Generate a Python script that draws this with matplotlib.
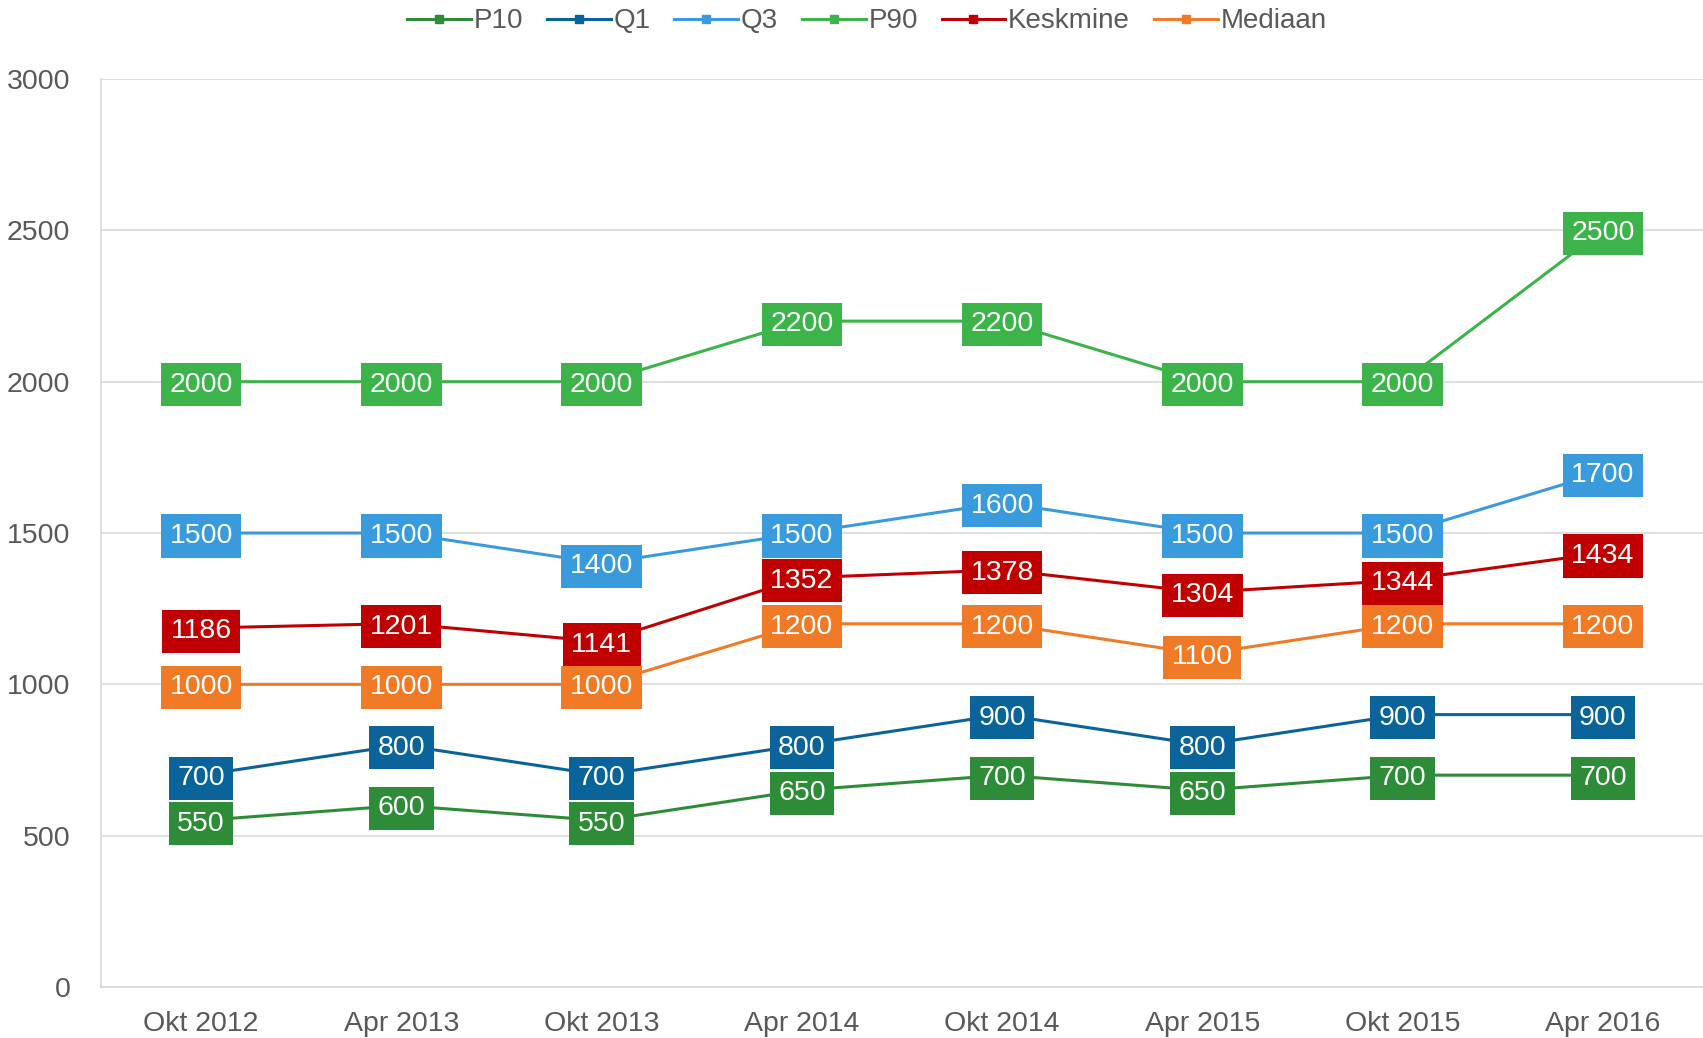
import matplotlib.pyplot as plt

plt.rcParams['font.family'] = ['Liberation Sans', 'DejaVu Sans']

periods = ['Okt 2012', 'Apr 2013', 'Okt 2013', 'Apr 2014', 'Okt 2014', 'Apr 2015', 'Okt 2015', 'Apr 2016']
p10 = [550, 600, 550, 650, 700, 650, 700, 700]
q1 = [700, 800, 700, 800, 900, 800, 900, 900]
q3 = [1500, 1500, 1400, 1500, 1600, 1500, 1500, 1700]
p90 = [2000, 2000, 2000, 2200, 2200, 2000, 2000, 2500]
keskmine = [1186, 1201, 1141, 1352, 1378, 1304, 1344, 1434]
mediaan = [1000, 1000, 1000, 1200, 1200, 1100, 1200, 1200]

series = [
    ('P10', p10, '#2E8B38'),
    ('Q1', q1, '#0A6399'),
    ('Q3', q3, '#3A9BDC'),
    ('P90', p90, '#3CB44A'),
    ('Keskmine', keskmine, '#C00000'),
    ('Mediaan', mediaan, '#F07A25'),
]

fig = plt.figure(figsize=(17.03, 10.38), dpi=100)
ax = fig.add_axes([0.0593, 0.0491, 0.9407, 0.8748])

x = list(range(len(periods)))
for name, vals, col in series:
    ax.plot(x, vals, color=col, lw=2.2, marker='s', markersize=8, label=name, zorder=3)
    for xi, v in zip(x, vals):
        ax.text(xi, v, str(v), ha='center', va='center_baseline', color='white', fontsize=20.5,
                zorder=4,
                bbox=dict(boxstyle='square,pad=0.3', fc=col, ec='none'))

ax.set_xlim(-0.5, 7.5)
ax.set_ylim(0, 3000)
ax.set_yticks(range(0, 3001, 500))
ax.set_xticks(x)
ax.set_xticklabels(periods)
ax.tick_params(length=0, labelsize=20.5, colors='#595959')
ax.tick_params(axis='x', pad=17)
ax.tick_params(axis='y', pad=22)
ax.grid(axis='y', color='#D9D9D9', lw=1.2)
ax.set_axisbelow(True)
for s in ['top', 'right']:
    ax.spines[s].set_visible(False)
ax.spines['left'].set_color('#D9D9D9')
ax.spines['bottom'].set_color('#D9D9D9')
ax.spines['left'].set_linewidth(1.2)
ax.spines['bottom'].set_linewidth(1.2)

leg = fig.legend(loc='upper center', bbox_to_anchor=(0.509, 1.016), ncol=6, frameon=False,
                 fontsize=20, handlelength=2.3, handletextpad=0.1, columnspacing=0.85,
                 labelcolor='#595959', markerscale=0.8)

fig.savefig('out.png', dpi=100)
